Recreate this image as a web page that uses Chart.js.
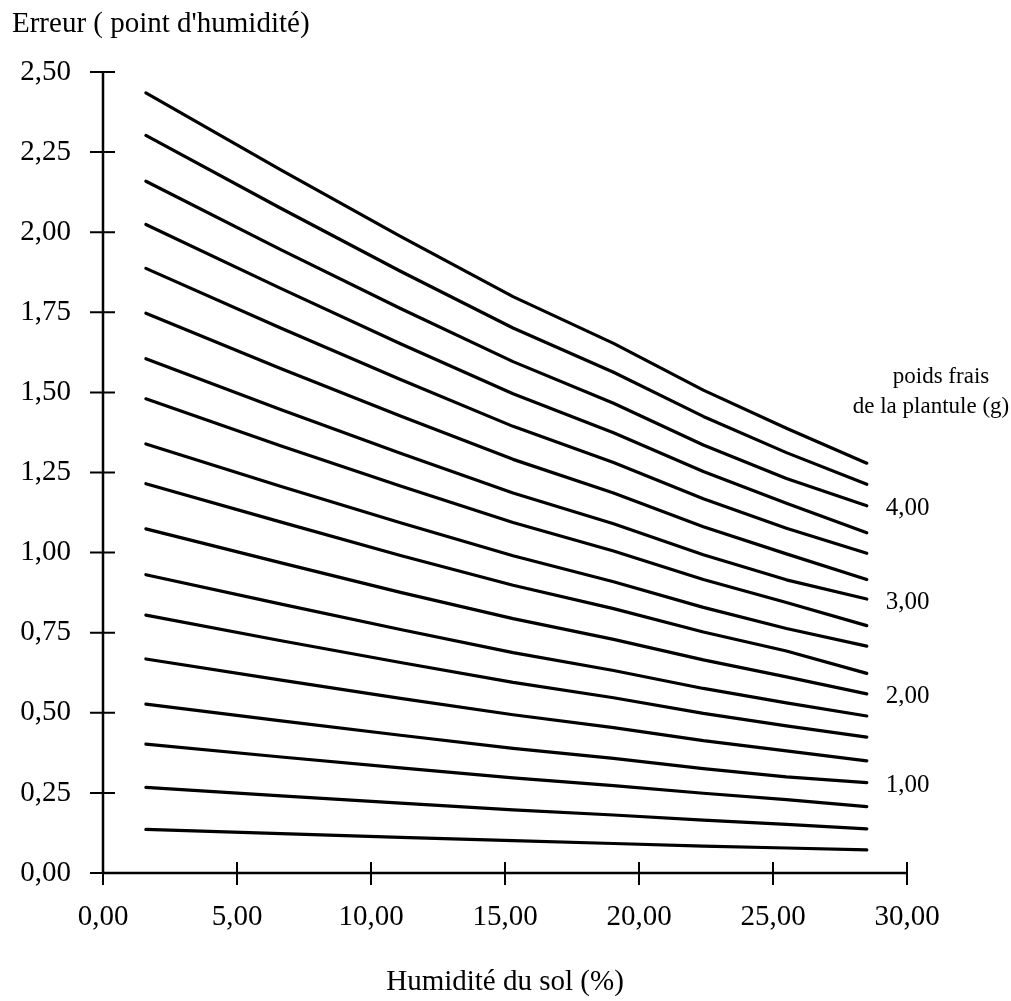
<!DOCTYPE html>
<html lang="fr">
<head>
<meta charset="utf-8">
<script src="https://cdn.jsdelivr.net/npm/chart.js@4.4.1/dist/chart.umd.min.js"></script>
<style>
    html, body { margin: 0; padding: 0; background: #fff; }
    #wrap { width: 1011px; height: 1001px; position: relative; }
</style>
</head>
<body>
<div id="wrap"><canvas id="graphErreur"></canvas></div>
<script>
// humidité du sol (%) aux points de cassure des courbes
const humidite = [1.6, 6.65, 11.1, 15.3, 19.05, 22.4, 25.5, 28.5];

// poids frais de la plantule (g), courbe du haut vers le bas
const poidsFrais = [4.50, 4.25, 4.00, 3.75, 3.50, 3.25, 3.00, 2.75, 2.50,
                    2.25, 2.00, 1.75, 1.50, 1.25, 1.00, 0.75, 0.50, 0.25];

// erreur (point d'humidité) lue sur chaque courbe
const erreurs = [
    [2.435, 2.194, 1.987, 1.799, 1.653, 1.507, 1.388, 1.279],
    [2.302, 2.074, 1.878, 1.701, 1.563, 1.425, 1.312, 1.213],
    [2.159, 1.945, 1.762, 1.596, 1.466, 1.336, 1.231, 1.146],
    [2.024, 1.824, 1.652, 1.496, 1.374, 1.253, 1.154, 1.062],
    [1.887, 1.700, 1.540, 1.394, 1.281, 1.168, 1.076, 0.998],
    [1.747, 1.574, 1.426, 1.291, 1.186, 1.081, 0.996, 0.916],
    [1.605, 1.446, 1.310, 1.186, 1.090, 0.993, 0.915, 0.855],
    [1.480, 1.333, 1.208, 1.094, 1.005, 0.916, 0.844, 0.772],
    [1.339, 1.206, 1.093, 0.990, 0.909, 0.829, 0.763, 0.708],
    [1.215, 1.095, 0.991, 0.898, 0.825, 0.752, 0.693, 0.623],
    [1.074, 0.968, 0.876, 0.794, 0.729, 0.665, 0.612, 0.559],
    [0.931, 0.839, 0.760, 0.688, 0.632, 0.576, 0.531, 0.490],
    [0.805, 0.725, 0.657, 0.595, 0.547, 0.498, 0.459, 0.424],
    [0.668, 0.602, 0.545, 0.494, 0.454, 0.413, 0.381, 0.350],
    [0.527, 0.475, 0.430, 0.389, 0.358, 0.326, 0.300, 0.282],
    [0.402, 0.362, 0.328, 0.297, 0.273, 0.249, 0.229, 0.207],
    [0.267, 0.241, 0.218, 0.197, 0.181, 0.165, 0.152, 0.138],
    [0.136, 0.123, 0.111, 0.101, 0.092, 0.084, 0.078, 0.072]
];

const ticksX = [0, 5, 10, 15, 20, 25, 30];
const ticksY = [0, 0.25, 0.5, 0.75, 1, 1.25, 1.5, 1.75, 2, 2.25, 2.5];
const etiquettesPoids = [4, 3, 2, 1];

const POLICE = '"Liberation Serif", "Times New Roman", serif';

function formatVirgule(v) {
    return Number(v).toFixed(2).replace('.', ',');
}

// axes avec graduations qui traversent la ligne, comme sur l'original
const axesCroises = {
    id: 'axesCroises',
    afterDraw(chart) {
        const { ctx, scales: { x, y } } = chart;
        const x0 = x.getPixelForValue(ticksX[0]);
        const x1 = x.getPixelForValue(ticksX[ticksX.length - 1]);
        const y0 = y.getPixelForValue(ticksY[0]);
        const y1 = y.getPixelForValue(ticksY[ticksY.length - 1]);
        ctx.save();
        ctx.strokeStyle = '#000';
        ctx.lineWidth = 2.5;
        ctx.beginPath();
        ctx.moveTo(x0, y0); ctx.lineTo(x1, y0);
        ctx.moveTo(x0, y0); ctx.lineTo(x0, y1);
        ctx.stroke();

        ctx.lineWidth = 2;
        ctx.beginPath();
        ticksX.forEach(v => {
            const px = x.getPixelForValue(v);
            ctx.moveTo(px, y0 - 11);
            ctx.lineTo(px, y0 + 12);
        });
        ticksY.forEach(v => {
            const py = y.getPixelForValue(v);
            ctx.moveTo(x0 - 13, py);
            ctx.lineTo(x0 + 12, py);
        });
        ctx.stroke();
        ctx.restore();
    }
};

// textes libres : titre de l'axe Y et légende des poids à droite
const textesLibres = {
    id: 'textesLibres',
    afterDraw(chart) {
        const { ctx, chartArea, scales: { x, y } } = chart;
        ctx.save();
        ctx.fillStyle = '#000';
        ctx.textBaseline = 'alphabetic';

        ctx.font = '29px ' + POLICE;
        ctx.textAlign = 'left';
        ctx.fillText("Erreur ( point d'humidité)", 12, 32);

        ctx.font = '23px ' + POLICE;
        ctx.textAlign = 'center';
        ctx.fillText('poids frais', chartArea.right + 34, 383);
        ctx.fillText('de la plantule (g)', chartArea.right + 24, 413);

        ctx.font = '25px ' + POLICE;
        ctx.textAlign = 'left';
        ctx.textBaseline = 'middle';
        const dernier = humidite.length - 1;
        etiquettesPoids.forEach(p => {
            const i = poidsFrais.indexOf(p);
            if (i < 0) return;
            const px = x.getPixelForValue(humidite[dernier]) + 19;
            const py = y.getPixelForValue(erreurs[i][dernier]) + 3;
            ctx.fillText(formatVirgule(p), px, py);
        });
        ctx.restore();
    }
};

const datasets = erreurs.map((serie, i) => ({
    label: formatVirgule(poidsFrais[i]) + ' g',
    data: serie.map((v, j) => ({ x: humidite[j], y: v })),
    borderColor: '#000',
    borderWidth: 3.2,
    borderCapStyle: 'round',
    borderJoinStyle: 'round',
    pointRadius: 0,
    tension: 0,
    fill: false
}));

const ctx = document.getElementById('graphErreur').getContext('2d');
new Chart(ctx, {
    type: 'line',
    data: { datasets: datasets },
    options: {
        responsive: true,
        maintainAspectRatio: false,
        animation: false,
        layout: { padding: { top: 72, right: 104, left: 0, bottom: 0 } },
        plugins: {
            legend: { display: false },
            tooltip: { enabled: false }
        },
        scales: {
            x: {
                type: 'linear',
                min: 0,
                max: 30,
                grid: { display: false, drawTicks: false },
                border: { display: false },
                afterBuildTicks: s => { s.ticks = ticksX.map(v => ({ value: v })); },
                afterFit: s => { s.height = 128; },
                ticks: {
                    color: '#000',
                    padding: 27,
                    maxRotation: 0,
                    font: { family: POLICE, size: 29 },
                    callback: v => formatVirgule(v)
                },
                title: {
                    display: true,
                    text: 'Humidité du sol (%)',
                    color: '#000',
                    font: { family: POLICE, size: 29 },
                    padding: { top: 0, bottom: 1 }
                }
            },
            y: {
                type: 'linear',
                min: 0,
                max: 2.5,
                grid: { display: false, drawTicks: false },
                border: { display: false },
                afterBuildTicks: s => { s.ticks = ticksY.map(v => ({ value: v })); },
                afterFit: s => { s.width = 103; },
                ticks: {
                    color: '#000',
                    padding: 32,
                    font: { family: POLICE, size: 29 },
                    callback: v => formatVirgule(v)
                }
            }
        }
    },
    plugins: [axesCroises, textesLibres]
});
</script>
</body>
</html>
